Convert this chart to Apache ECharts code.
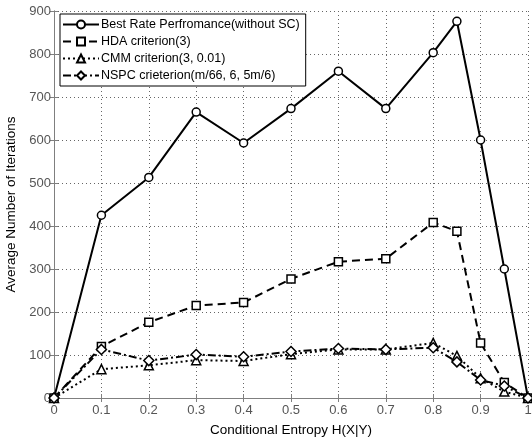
<!DOCTYPE html>
<html>
<head>
<meta charset="utf-8">
<script src="https://cdn.jsdelivr.net/npm/echarts@6/dist/echarts.min.js"></script>
<style>
  html, body { margin: 0; padding: 0; background: #fff; }
  #chart { width: 532px; height: 437px; }
</style>
</head>
<body>
<div id="chart"></div>
<script>
// x positions (conditional entropy)
const entropy = [0, 0.1, 0.2, 0.3, 0.4, 0.5, 0.6, 0.7, 0.8, 0.85, 0.9, 0.95, 1]
const bestRate = [0, 425, 513, 665, 593, 673, 760, 673, 803, 876, 600, 300, 0]
const hda = [0, 120, 176, 215, 222, 277, 317, 324, 408, 388, 128, 36, 0]
const cmm = [0, 67, 76, 88, 86, 102, 113, 113, 128, 98, 46, 15, 0]
const nspc = [0, 113, 87, 101, 96, 108, 115, 113, 117, 84, 42, 28, 0]

const names = [
  'Best Rate Perfromance(without SC)',
  'HDA criterion(3)',
  'CMM criterion(3, 0.01)',
  'NSPC crieterion(m/66, 6, 5m/6)',
]

const font = 'Liberation Sans, Arial, sans-serif'
const axisGray = '#7f7f7f'

function pairs(vals) {
  return entropy.map((x, i) => [x, vals[i]])
}

function line(name, vals, symbol, type, size) {
  return {
    name: name,
    type: 'line',
    data: pairs(vals),
    symbol: symbol,
    symbolSize: size,
    showAllSymbol: true,
    lineStyle: { color: '#000', width: 2, type: type },
    itemStyle: { color: '#fff', borderColor: '#000', borderWidth: 1.5 },
    animation: false,
  }
}

const chart = echarts.init(document.getElementById('chart'))

chart.setOption({
  backgroundColor: '#fff',
  textStyle: { fontFamily: font },
  grid: { left: 54, right: 4, top: 11, bottom: 39, outerBoundsMode: 'none', containLabel: false },
  legend: {
    orient: 'vertical',
    left: 60,
    top: 14,
    padding: [4, 6, 4, 2],
    itemGap: 4,
    itemWidth: 36,
    itemHeight: 10,
    borderColor: '#000',
    borderWidth: 1,
    backgroundColor: '#fff',
    textStyle: { fontFamily: font, fontSize: 12.5, color: '#000', padding: [0, 0, 0, -3] },
    data: names,
  },
  xAxis: [
    {
      type: 'value',
      min: 0,
      max: 1,
      interval: 0.1,
      name: 'Conditional Entropy H(X|Y)',
      nameLocation: 'middle',
      nameGap: 25,
      nameTextStyle: { fontFamily: font, fontSize: 13.5, color: '#000' },
      axisLine: { lineStyle: { color: axisGray } },
      axisTick: { inside: true, length: 4, lineStyle: { color: axisGray } },
      axisLabel: {
        color: '#555',
        fontSize: 13,
        margin: 6,
        formatter: v => String(Math.round(v * 10) / 10),
      },
      splitLine: { show: true, lineStyle: { color: '#666', type: [1, 3], width: 1 } },
    },
    {
      type: 'value',
      position: 'top',
      min: 0,
      max: 1,
      interval: 0.1,
      axisLine: { show: true, lineStyle: { color: axisGray } },
      axisTick: { show: true, inside: true, length: 4, lineStyle: { color: axisGray } },
      axisLabel: { show: false },
      splitLine: { show: false },
    },
  ],
  yAxis: [
    {
      type: 'value',
      min: 0,
      max: 900,
      interval: 100,
      name: 'Average Number of Iterations',
      nameLocation: 'middle',
      nameGap: 36,
      nameTextStyle: { fontFamily: font, fontSize: 13.5, color: '#000' },
      axisLine: { show: true, lineStyle: { color: axisGray } },
      axisTick: { show: true, inside: true, length: 4, lineStyle: { color: axisGray } },
      axisLabel: { color: '#555', fontSize: 13, margin: 3 },
      splitLine: { show: true, lineStyle: { color: '#666', type: [1, 3], width: 1 } },
    },
    {
      type: 'value',
      position: 'right',
      min: 0,
      max: 900,
      interval: 100,
      axisLine: { show: true, lineStyle: { color: axisGray } },
      axisTick: { show: true, inside: true, length: 4, lineStyle: { color: axisGray } },
      axisLabel: { show: false },
      splitLine: { show: false },
    },
  ],
  series: [
    line(names[0], bestRate, 'circle', 'solid', 8),
    line(names[1], hda, 'rect', [8, 5], 8),
    line(names[2], cmm, 'triangle', [2, 3], 9),
    line(names[3], nspc, 'diamond', [8, 3, 2, 3], 10),
  ],
})
</script>
</body>
</html>
